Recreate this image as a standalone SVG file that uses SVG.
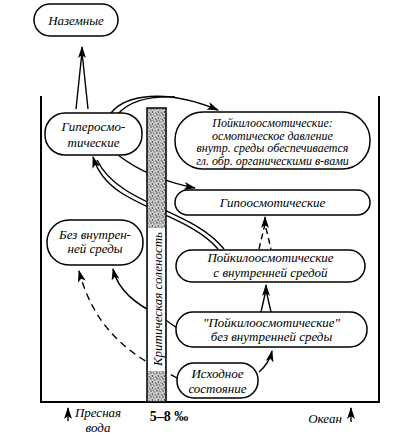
<svg xmlns="http://www.w3.org/2000/svg" width="410" height="441" viewBox="0 0 410 441">
<style>
.node rect{fill:#fff;stroke:#000;stroke-width:1.5}
.t{font-family:"Liberation Serif","Times New Roman",serif;font-style:italic;font-size:13px;fill:#000;text-anchor:middle}
.s{font-size:12px}
.ln{fill:none;stroke:#000;stroke-width:1.4}
.dash{stroke-dasharray:7,5}
.frame{fill:none;stroke:#000;stroke-width:2}
</style>
<defs>
<marker id="ah" viewBox="0 0 12 8" refX="11" refY="4" markerWidth="12" markerHeight="8" markerUnits="userSpaceOnUse" orient="auto">
<path d="M0,0 L12,4 L0,8 L3,4 z" fill="#000"/>
</marker>
<pattern id="stip" width="6" height="6" patternUnits="userSpaceOnUse">
<rect width="6" height="6" fill="#cfcfcf"/>
<circle cx="1" cy="1" r="0.7" fill="#222"/>
<circle cx="4" cy="1.8" r="0.6" fill="#333"/>
<circle cx="2.3" cy="4" r="0.7" fill="#111"/>
<circle cx="5.2" cy="4.8" r="0.6" fill="#333"/>
<circle cx="0.4" cy="5.4" r="0.5" fill="#444"/>
<circle cx="3.2" cy="0.2" r="0.5" fill="#444"/>
<circle cx="3.6" cy="5.8" r="0.4" fill="#555"/>
<circle cx="5.6" cy="2.8" r="0.4" fill="#555"/>
</pattern>
</defs>

<!-- frame -->
<path class="frame" d="M41,96 V402 H379 V96"/>

<g id="connectors">
<!-- Гипер -> Наземные -->
<path class="ln" d="M76,109 L82,52 L88,109"/>
<path class="ln" d="M82,56 L82,47" marker-end="url(#ah)"/>
<!-- Гипер -> Пойкило органич (double) -->
<path class="ln" d="M111,113 C125,95 165,88 218,110" marker-end="url(#ah)"/>
<path class="ln" d="M118,114 C130,100 150,96 175,97"/>
<!-- Гипер -> Гипоосмотические -->
<path class="ln" d="M118,155 C140,172 165,182 195,188" marker-end="url(#ah)"/>
<!-- Пойкило с внутр -> Гипер (double) -->
<path class="ln" d="M218,249 C195,222 150,212 120,192 C105,182 97,170 93,157" marker-end="url(#ah)"/>
<path class="ln" d="M224,249 C200,219 155,210 124,189 C110,180 102,170 97,160"/>
<!-- Пойкило с внутр -> Гипо (dashed) -->
<path class="ln" d="M259,249 L265,224 L271,249" stroke-dasharray="6,4"/>
<path class="ln" d="M265,226 L265,217" marker-end="url(#ah)"/>
<!-- Пойкило без -> Пойкило с внутр -->
<path class="ln" d="M261,312 L266,290 L271,312"/>
<path class="ln" d="M266,294 L266,285" marker-end="url(#ah)"/>
<!-- Пойкило без -> Без внутр -->
<path class="ln" d="M177,328 L160,316 C135,304 118,290 113,269" marker-end="url(#ah)"/>
<!-- Исходное -> Без внутр (dashed) -->
<path class="ln dash" d="M177,378 L166,372 C120,350 92,320 79,271" marker-end="url(#ah)"/>
<!-- Исходное -> Пойкило без -->
<path class="ln" d="M259,372 C266,366 270,360 272,351" marker-end="url(#ah)"/>
</g>

<!-- critical salinity column -->
<g id="column">
<rect x="147" y="108" width="19" height="294" fill="url(#stip)" stroke="#000" stroke-width="1.5"/>
<rect x="148" y="228" width="17" height="143" fill="#fff"/>
<text class="t" transform="translate(161.5,299) rotate(-90)" font-size="13.5">Критическая соленость</text>
</g>

<g id="n-nazemnye" class="node">
<rect x="34" y="4" width="84" height="32" rx="16"/>
<text class="t" x="76" y="24.5">Наземные</text>
</g>

<g id="n-giper" class="node">
<rect x="45" y="113" width="97" height="42" rx="20"/>
<text class="t" x="93.5" y="131">Гиперосмо-</text>
<text class="t" x="93.5" y="147">тические</text>
</g>

<g id="n-poikilo-org" class="node">
<rect x="175" y="112" width="195" height="57" rx="28"/>
<text class="t s" x="272.5" y="127">Пойкилоосмотические:</text>
<text class="t s" x="272.5" y="139.5">осмотическое давление</text>
<text class="t s" x="272.5" y="152">внутр. среды обеспечивается</text>
<text class="t s" x="272.5" y="164.5">гл. обр. органическими в-вами</text>
</g>

<g id="n-gipo" class="node">
<rect x="175" y="190" width="195" height="25" rx="12.5"/>
<text class="t" x="272.5" y="207">Гипоосмотические</text>
</g>

<g id="n-bez-vnutr" class="node">
<rect x="47" y="220" width="96" height="45" rx="22"/>
<text class="t" x="95" y="239">Без внутрен-</text>
<text class="t" x="95" y="253">ней среды</text>
</g>

<g id="n-poikilo-vnutr" class="node">
<rect x="176" y="250" width="189" height="32" rx="16"/>
<text class="t" x="270.5" y="262">Пойкилоосмотические</text>
<text class="t" x="270.5" y="277">с внутренней средой</text>
</g>

<g id="n-poikilo-bez" class="node">
<rect x="176" y="312" width="191" height="35" rx="17"/>
<text class="t" x="271.5" y="327">"Пойкилоосмотические"</text>
<text class="t" x="271.5" y="341">без внутренней среды</text>
</g>

<g id="n-ishodnoe" class="node">
<rect x="177" y="363" width="81" height="35" rx="17"/>
<text class="t" x="217.5" y="377.5">Исходное</text>
<text class="t" x="217.5" y="393">состояние</text>
</g>

<!-- bottom labels -->
<g id="labels">
<path class="ln" d="M68,421 V408" marker-end="url(#ah)"/>
<text class="t" x="98" y="417">Пресная</text>
<text class="t" x="98" y="432">вода</text>
<text x="169" y="421" font-family="Liberation Serif, serif" font-size="14" font-weight="bold" text-anchor="middle">5–8 ‰</text>
<text class="t" x="325" y="422.5">Океан</text>
<path class="ln" d="M351,422 V408" marker-end="url(#ah)"/>
</g>
</svg>
